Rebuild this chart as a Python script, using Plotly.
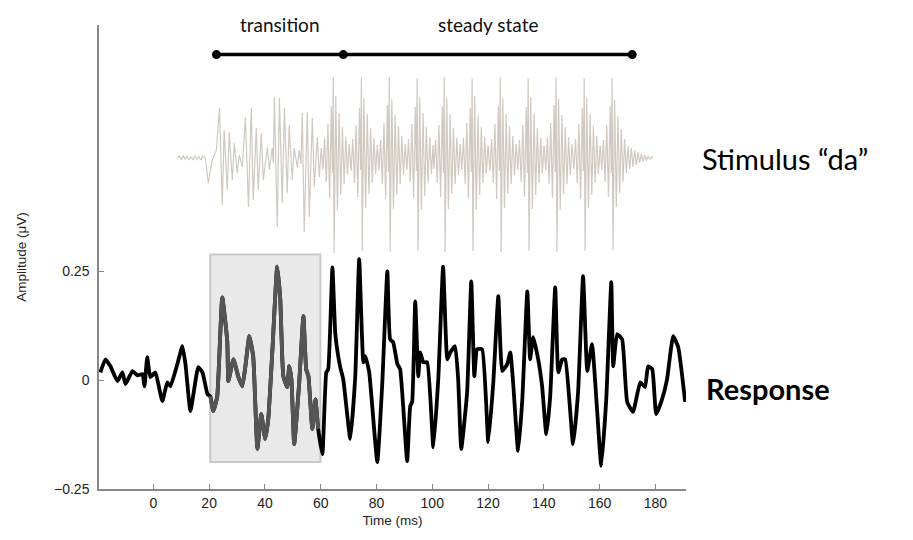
import plotly.graph_objects as go

# response (black trace), time in ms, amplitude in uV
resp_t = [-19.0, -17.2, -15.4, -12.9, -11.1, -10.0, -7.5, -5.7, -3.9, -3.2, -2.2, -1.1, 0.7,
          3.2, 5.0, 6.1, 8.6, 10.4, 11.5, 13.3, 16.1, 17.6, 19.4, 20.4,
          21.5, 22.9, 24.7, 26.5, 26.9, 28.7, 30.5, 31.9, 33.0, 34.4, 35.8, 37.3, 38.7, 40.1,
          41.2, 42.7, 44.4, 45.5, 46.6, 48.0, 48.7, 49.5, 50.5, 52.3, 53.8, 54.8, 55.6, 57.0,
          58.1, 59.1,
          60.6, 62.0, 62.7, 64.2, 65.2, 65.9, 67.0, 68.1, 70.6, 72.4, 73.8, 75.3, 76.0, 77.4,
          80.3, 82.1, 83.9, 84.9, 86.0, 87.5, 88.5, 91.0, 92.1, 92.8, 93.9, 95.0, 95.7, 96.8,
          98.2, 100.4, 102.2, 103.9, 105.4, 106.5, 108.2, 109.3, 110.4, 112.5, 114.0, 115.1,
          116.1, 117.9, 120.1, 121.9, 123.7, 125.1, 126.9, 128.0, 129.0, 130.8, 132.3, 134.1,
          135.1, 136.2, 138.0, 139.4, 140.9, 142.3, 144.1, 145.2, 146.6, 147.7, 150.5, 152.3,
          154.1, 155.6, 157.3, 159.1, 160.6, 162.4, 164.2, 164.9, 166.3, 168.1, 169.9, 172.0,
          174.6, 176.3, 177.4, 178.9, 180.3, 182.4, 184.2, 186.4, 188.2, 190.7]
resp_v = [0.018, 0.048, 0.032, -0.002, 0.018, -0.009, 0.021, 0.011, 0.014, -0.014, 0.053, 0.007, 0.018,
          -0.048, -0.005, -0.014, 0.037, 0.078, 0.037, -0.071, 0.030, 0.018, -0.032, -0.037,
          -0.071, -0.037, 0.190, 0.089, -0.002, 0.048, 0.007, -0.014, 0.032, 0.101, 0.055, -0.158, -0.078, -0.135,
          -0.089, 0.071, 0.261, 0.186, 0.009, -0.016, 0.032, 0.002, -0.147, -0.005, 0.147, 0.025, 0.009, -0.112,
          -0.044, -0.112,
          -0.170, 0.018, 0.025, 0.259, 0.110, 0.071, 0.030, 0.002, -0.135, 0.009, 0.278, 0.041, 0.055, 0.018,
          -0.188, -0.005, 0.250, 0.094, 0.087, 0.037, 0.025, -0.186, -0.060, -0.050, 0.181, 0.009, 0.064, 0.041,
          0.041, -0.154, 0.007, 0.261, 0.048, 0.064, 0.078, 0.002, -0.158, -0.028, 0.227, 0.009,
          0.071, 0.071, -0.142, -0.005, 0.193, 0.021, 0.037, 0.064, -0.005, -0.163, -0.044, 0.204,
          0.048, 0.099, 0.048, -0.014, -0.124, -0.037, 0.213, 0.018, 0.048, 0.048, -0.147, -0.028,
          0.239, 0.021, 0.083, -0.067, -0.197, -0.044, 0.225, 0.032, 0.106, 0.094, -0.050, -0.073,
          -0.005, -0.016, 0.032, 0.025, -0.078, -0.044, 0.002, 0.101, 0.076, -0.050]

# stimulus "da" waveform (normalised amplitude)
stim_t = [8.6, 9.3, 10.0, 10.7, 11.4, 12.1, 12.8, 13.5, 14.2, 14.9, 15.6, 16.3, 17.0, 17.7, 18.6,
          19.7, 21.1, 22.6, 23.7, 24.7, 25.4, 26.5, 27.2, 28.3, 29.0, 30.1, 30.8, 31.9,
          33.0, 34.1, 35.1, 35.8, 36.9, 37.6, 38.7, 39.4, 40.9, 41.6, 42.6, 43.0,
          43.4, 44.4, 45.2, 46.2, 47.0, 48.0, 48.7, 49.8, 50.5, 51.6, 52.3, 52.9,
          53.4, 54.1, 55.2, 55.9, 57.0, 57.7, 58.8, 59.5, 60.2,
          60.8, 61.4, 62.0, 62.6, 63.2, 63.8, 64.2, 64.5, 64.8, 65.4, 66.0, 66.6, 67.2, 67.8, 68.4, 69.0, 69.6, 70.2,
          70.9, 71.5, 72.1, 72.7, 73.3, 73.9, 74.3, 74.6, 74.9, 75.5, 76.1, 76.7, 77.3, 77.9, 78.5, 79.1, 79.7, 80.3,
          80.9, 81.5, 82.1, 82.7, 83.3, 83.9, 84.3, 84.6, 84.9, 85.5, 86.1, 86.7, 87.3, 87.9, 88.5, 89.1, 89.7, 90.3,
          90.9, 91.5, 92.1, 92.7, 93.3, 93.9, 94.3, 94.6, 94.9, 95.5, 96.1, 96.7, 97.3, 97.9, 98.5, 99.1, 99.7, 100.3,
          100.6, 101.2, 101.8, 102.4, 103.0, 103.6, 104.0, 104.3, 104.6, 105.2, 105.8, 106.4, 107.0, 107.6, 108.2, 108.8, 109.4, 110.0,
          110.6, 111.2, 111.8, 112.4, 113.0, 113.6, 114.0, 114.3, 114.6, 115.2, 115.8, 116.4, 117.0, 117.6, 118.2, 118.8, 119.4, 120.0,
          120.7, 121.3, 121.9, 122.5, 123.1, 123.7, 124.1, 124.4, 124.7, 125.3, 125.9, 126.5, 127.1, 127.7, 128.3, 128.9, 129.5, 130.1,
          130.7, 131.3, 131.9, 132.5, 133.1, 133.7, 134.1, 134.4, 134.7, 135.3, 135.9, 136.5, 137.1, 137.7, 138.3, 138.9, 139.5, 140.1,
          140.7, 141.3, 141.9, 142.5, 143.1, 143.7, 144.1, 144.4, 144.7, 145.3, 145.9, 146.5, 147.1, 147.7, 148.3, 148.9, 149.5, 150.1,
          150.8, 151.4, 152.0, 152.6, 153.2, 153.8, 154.2, 154.5, 154.8, 155.4, 156.0, 156.6, 157.2, 157.8, 158.4, 159.0, 159.6, 160.2,
          160.8, 161.4, 162.0, 162.6, 163.2, 163.8, 164.2, 164.5, 164.8, 165.4, 166.0, 166.6, 167.2, 167.8, 168.4, 169.0, 169.6, 170.2,
          170.8, 171.4, 172.0, 172.6, 173.2, 173.8, 174.4, 175.0, 175.6, 176.2, 176.8, 177.4, 178.0, 178.6, 179.2]
stim_v = [0.0, 0.02, -0.02, 0.025, -0.015, 0.02, -0.02, 0.015, -0.02, 0.02, -0.015, 0.015, -0.02, 0.02, 0.0,
          -0.25, -0.02, 0.08, 0.50, -0.47, 0.28, -0.32, 0.26, -0.22, 0.15, -0.15, 0.03, -0.09,
          0.41, -0.49, 0.50, -0.42, 0.30, -0.32, 0.25, -0.22, 0.11, -0.12, 0.10, -0.05,
          0.61, -0.69, 0.60, -0.45, 0.50, -0.35, 0.33, -0.22, 0.10, -0.09, 0.08, -0.06,
          0.45, -0.74, 0.46, -0.59, 0.40, -0.29, 0.21, -0.19, 0.10,
          -0.12, 0.20, -0.24, 0.34, -0.40, 0.52, -0.15, 0.81, -0.95, 0.62, -0.52, 0.45, -0.37, 0.31, -0.26, 0.21, -0.17, 0.14,
          -0.13, 0.19, -0.25, 0.33, -0.39, 0.50, -0.12, 0.80, -0.93, 0.60, -0.50, 0.44, -0.36, 0.30, -0.25, 0.20, -0.16, 0.13,
          -0.12, 0.18, -0.26, 0.35, -0.41, 0.53, -0.14, 0.81, -0.94, 0.59, -0.51, 0.43, -0.37, 0.32, -0.26, 0.22, -0.17, 0.14,
          -0.12, 0.19, -0.24, 0.34, -0.40, 0.51, -0.13, 0.80, -0.93, 0.61, -0.52, 0.45, -0.38, 0.31, -0.25, 0.21, -0.16, 0.13,
          -0.11, 0.18, -0.25, 0.33, -0.39, 0.52, -0.15, 0.81, -0.94, 0.60, -0.51, 0.44, -0.36, 0.30, -0.26, 0.20, -0.17, 0.14,
          -0.12, 0.20, -0.26, 0.35, -0.40, 0.50, -0.14, 0.80, -0.93, 0.62, -0.52, 0.43, -0.37, 0.31, -0.25, 0.21, -0.16, 0.13,
          -0.13, 0.19, -0.25, 0.34, -0.41, 0.52, -0.13, 0.81, -0.94, 0.60, -0.50, 0.44, -0.36, 0.32, -0.26, 0.22, -0.17, 0.14,
          -0.12, 0.18, -0.24, 0.33, -0.39, 0.51, -0.15, 0.80, -0.93, 0.61, -0.51, 0.45, -0.37, 0.30, -0.25, 0.20, -0.16, 0.13,
          -0.12, 0.20, -0.26, 0.35, -0.40, 0.53, -0.14, 0.81, -0.94, 0.59, -0.52, 0.43, -0.36, 0.31, -0.26, 0.21, -0.17, 0.14,
          -0.11, 0.19, -0.25, 0.34, -0.41, 0.50, -0.13, 0.80, -0.93, 0.60, -0.50, 0.44, -0.37, 0.32, -0.25, 0.22, -0.16, 0.13,
          -0.12, 0.18, -0.24, 0.33, -0.39, 0.52, -0.15, 0.80, -0.92, 0.58, -0.49, 0.42, -0.35, 0.29, -0.24, 0.19, -0.15, 0.12,
          -0.11, 0.10, -0.09, 0.08, -0.07, 0.06, -0.05, 0.04, -0.035, 0.03, -0.025, 0.02, -0.015, 0.01, 0.0]

# segment markers above the stimulus (ms)
seg_t = [22.6, 68.1, 171.7]
seg_names = ["transition", "steady state"]

x_ticks = [0, 20, 40, 60, 80, 100, 120, 140, 160, 180]
y_ticks = [-0.25, 0, 0.25]
y_ticktext = ["\u22120.25", "0", "0.25"]

box_t0, box_t1 = 20.4, 59.9
box_lo, box_hi = -0.188, 0.289

font_axis = "Liberation Sans, Arial, sans-serif"
font_text = "Lato, Open Sans, sans-serif"

fig = go.Figure()

fig.add_trace(go.Scatter(x=stim_t, y=stim_v, mode="lines", yaxis="y2",
                         line=dict(color="rgb(208,201,193)", width=1.2), hoverinfo="skip"))

fig.add_trace(go.Scatter(x=resp_t, y=resp_v, mode="lines",
                         line=dict(color="black", width=3.8, shape="spline", smoothing=0.4)))

in_box = [i for i, t in enumerate(resp_t) if box_t0 <= t <= box_t1]
fig.add_trace(go.Scatter(x=[resp_t[i] for i in in_box], y=[resp_v[i] for i in in_box], mode="lines",
                         line=dict(color="#555555", width=3.8, shape="spline", smoothing=0.4)))

fig.add_trace(go.Scatter(x=seg_t, y=[0.748] * len(seg_t), mode="lines+markers", cliponaxis=False,
                         line=dict(color="black", width=3.5), marker=dict(color="black", size=9)))

fig.add_shape(type="rect", x0=box_t0, x1=box_t1, y0=box_lo, y1=box_hi, layer="below",
              fillcolor="#e9e9e9", line=dict(color="#c9c9c9", width=2))

for i, name in enumerate(seg_names):
    fig.add_annotation(x=(seg_t[i] + seg_t[i + 1]) / 2, yref="paper", y=1.002, text=name,
                       showarrow=False, font=dict(family=font_text, size=19, color="#111"),
                       yanchor="middle")

fig.add_annotation(xref="paper", x=1.024, yref="y2", y=0.0, text="Stimulus \u201cda\u201d",
                   showarrow=False, xanchor="left", font=dict(family=font_text, size=29, color="black"))
fig.add_annotation(xref="paper", x=1.031, y=-0.02, text="<b>Response</b>",
                   showarrow=False, xanchor="left", font=dict(family=font_text, size=29, color="black"))

# page body has an 8px margin, so the figure is sized to fit the window inside it
fig.update_layout(
    width=905, height=532,
    margin=dict(l=91, r=227, t=17, b=51),
    plot_bgcolor="white", paper_bgcolor="white",
    showlegend=False,
    xaxis=dict(range=[-19.5, 191], tickvals=x_ticks, ticks="inside", ticklen=5, tickcolor="#888",
               showline=True, linecolor="#888", linewidth=1.5, showgrid=False, zeroline=False,
               tickfont=dict(family=font_axis, size=14, color="#222"),
               title=dict(text="Time (ms)", font=dict(family=font_axis, size=13.5, color="#222"), standoff=6)),
    yaxis=dict(range=[-0.25, 0.816], tickvals=y_ticks, ticktext=y_ticktext, ticks="inside", ticklen=5,
               tickcolor="#888", showline=True, linecolor="#888", linewidth=1.5, showgrid=False,
               zeroline=False, tickfont=dict(family=font_axis, size=14, color="#222"),
               ticklabelstandoff=5,
               title=dict(text="Amplitude (\u03bcV)", font=dict(family=font_axis, size=13.5, color="#222"), standoff=24)),
    yaxis2=dict(overlaying="y", range=[-3.31, 1.33], visible=False),
)

fig.write_html("out.html")
